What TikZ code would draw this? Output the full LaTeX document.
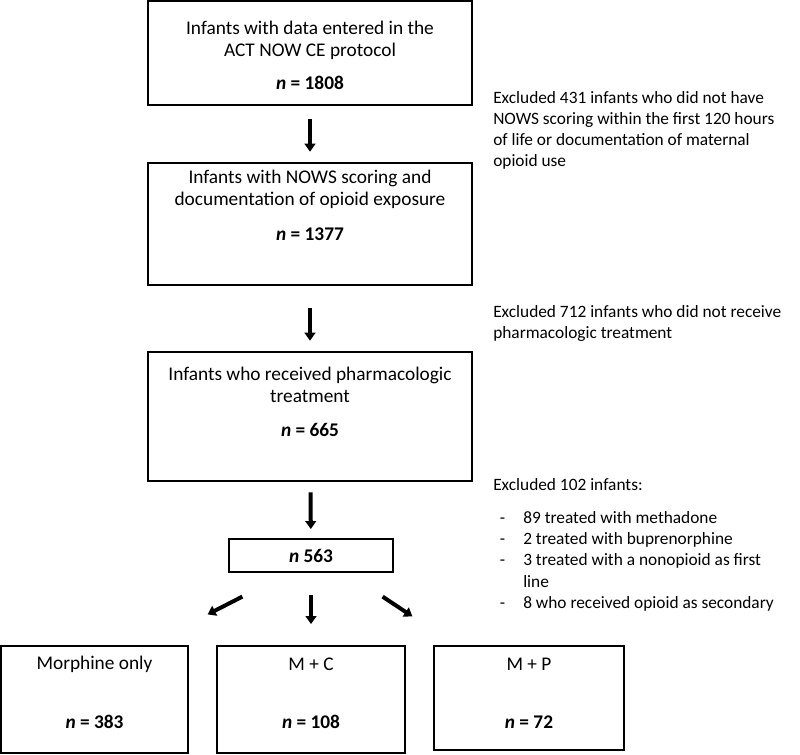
\documentclass[tikz,border=0pt]{standalone}
\usepackage{fontspec}
\setmainfont{Carlito}
\usetikzlibrary{arrows.meta}
\begin{document}
\begin{tikzpicture}[x=0.75pt,y=-0.75pt]
  % Define styles for nodes
  \tikzstyle{flowbox} = [draw, rectangle, line width=0.9pt, inner sep=0pt,
  font=\fontsize{14.5}{16.5}\selectfont]
  \tikzstyle{boxtext} = [align=center, inner sep=0pt,
  font=\fontsize{14.5}{16.5}\selectfont]
  \tikzstyle{sidetext} = [anchor=north west, align=left, inner sep=0pt,
  font=\fontsize{13}{15.9}\selectfont]
  \tikzstyle{fatarrow} = [line width=3pt, -{Triangle[length=6pt,width=8pt]}]

  \useasboundingbox (0,0) rectangle (800,754);

  % Main boxes
  \node[flowbox, minimum width=243pt, minimum height=78pt] (b1) at (310,53) {};
  \node[flowbox, minimum width=243pt, minimum height=91.5pt] (b2) at (310,224) {};
  \node[flowbox, minimum width=243pt, minimum height=96.75pt] (b3) at (310,416.5) {};
  \node[flowbox, minimum width=123pt, minimum height=24.75pt] (m) at (311,555.5)
  {\textbf{\textit{n} 563}};

  % Groups at bottom
  \node[flowbox, minimum width=140.25pt, minimum height=80.25pt] (ba) at (94.5,699.5) {};
  \node[flowbox, minimum width=141pt, minimum height=80.25pt] (bb) at (311,699.5) {};
  \node[flowbox, minimum width=142.5pt, minimum height=78pt] (bc) at (529,698) {};

  % Texts in the boxes
  \node[boxtext] (t1) at (310,40.5) {Infants with data entered in the\\ACT NOW CE protocol};
  \node[boxtext] (n1) at (310,83) {\textbf{\textit{n} = 1808}};
  \node[boxtext] (t2) at (310,189.5) {Infants with NOWS scoring and\\documentation of opioid exposure};
  \node[boxtext] (n2) at (310,234) {\textbf{\textit{n} = 1377}};
  \node[boxtext] (t3) at (310,384.5) {Infants who received pharmacologic\\treatment};
  \node[boxtext] (n3) at (310,430) {\textbf{\textit{n} = 665}};
  \node[boxtext] (ta) at (94.5,664) {Morphine only};
  \node[boxtext] (na) at (94.5,722) {\textbf{\textit{n} = 383}};
  \node[boxtext] (tb) at (311,664) {M + C};
  \node[boxtext] (nb) at (311,722) {\textbf{\textit{n} = 108}};
  \node[boxtext] (tc) at (529,664) {M + P};
  \node[boxtext] (nc) at (529,722) {\textbf{\textit{n} = 72}};

  % Exclusions on the right
  \node[sidetext] (x1) at (493,91) {Excluded 431 infants who did not have\\
    NOWS scoring within the first 120 hours\\of life or documentation of maternal\\opioid use};
  \node[sidetext] (x2) at (493,305) {Excluded 712 infants who did not receive\\pharmacologic treatment};
  \node[sidetext] (x3) at (493,478) {Excluded 102 infants:\\[9pt]
    \hspace*{5pt}\makebox[17.5pt][l]{-}89 treated with methadone\\
    \hspace*{5pt}\makebox[17.5pt][l]{-}2 treated with buprenorphine\\
    \hspace*{5pt}\makebox[17.5pt][l]{-}3 treated with a nonopioid as first\\
    \hspace*{22.5pt}line\\
    \hspace*{5pt}\makebox[17.5pt][l]{-}8 who received opioid as secondary};

  % Arrows
  \draw[fatarrow, shorten <=10pt, shorten >=8pt] (b1) -- (b2);
  \draw[fatarrow, shorten <=17pt, shorten >=8pt] (b2) -- (b3);
  \draw[fatarrow, shorten <=8pt, shorten >=7pt] (b3) -- (m);
  \draw[fatarrow] ([shift={(14,24)}]m.south west) -- ([shift={(19,-31)}]ba.north east);
  \draw[fatarrow, shorten <=17pt, shorten >=16pt] (m) -- (bb);
  \draw[fatarrow] ([shift={(-11,24)}]m.south east) -- ([shift={(-21,-29)}]bc.north west);
\end{tikzpicture}
\end{document}
